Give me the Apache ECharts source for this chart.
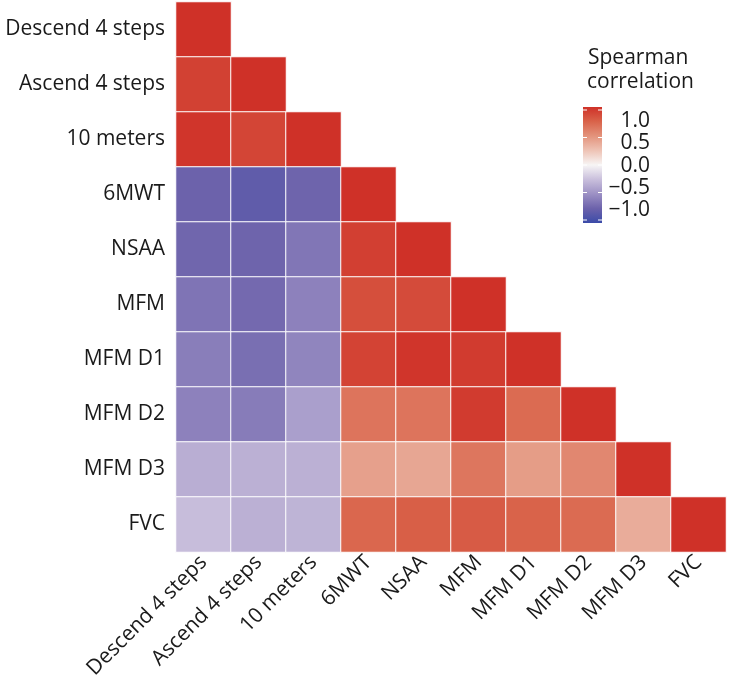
<!DOCTYPE html>
<html>
<head>
<meta charset="utf-8">
<script src="https://cdn.jsdelivr.net/npm/echarts@6/dist/echarts.min.js"></script>
<style>
html,body{margin:0;padding:0;background:#fff;}
#chart{width:730px;height:685px;}
</style>
</head>
<body>
<div id="chart"></div>
<script>
// Variables (same order for rows top->bottom and columns left->right)
const variables = ["Descend 4 steps","Ascend 4 steps","10 meters","6MWT","NSAA","MFM","MFM D1","MFM D2","MFM D3","FVC"];

// Lower-triangle Spearman correlations, one array per row (columns 0..row)
const rowDescend = [1];
const rowAscend  = [0.92, 1];
const row10m     = [0.98, 0.90, 1];
const row6MWT    = [-0.75, -0.81, -0.74, 1];
const rowNSAA    = [-0.73, -0.74, -0.64, 0.93, 1];
const rowMFM     = [-0.65, -0.71, -0.58, 0.85, 0.87, 1];
const rowMFMD1   = [-0.60, -0.68, -0.56, 0.91, 0.98, 0.95, 1];
const rowMFMD2   = [-0.58, -0.61, -0.42, 0.66, 0.66, 0.95, 0.71, 1];
const rowMFMD3   = [-0.34, -0.33, -0.33, 0.43, 0.40, 0.65, 0.45, 0.56, 1];
const rowFVC     = [-0.26, -0.33, -0.31, 0.73, 0.77, 0.79, 0.75, 0.71, 0.37, 1];

const legendTicks = ["1.0","0.5","0.0","\u22120.5","\u22121.0"];
const legendTitle = ["Spearman","correlation"];

const rows = [rowDescend,rowAscend,row10m,row6MWT,rowNSAA,rowMFM,rowMFMD1,rowMFMD2,rowMFMD3,rowFVC];
const data = [];
rows.forEach((r, i) => r.forEach((v, j) => data.push([j, i, v])));

// colour scale, from -1 to 1
const scaleColors = ['#3B4BA8','#6C62AB','#9C90C4','#C9BFDC','#F7F5F5','#EEC3B5','#E3937C','#D9634A','#CF3128'];

const font = '"Open Sans", "Noto Sans", sans-serif';
const chart = echarts.init(document.getElementById('chart'), null, {renderer:'canvas'});

// legend gradient (top = +1)
const gradStops = scaleColors.slice().reverse().map((c, k, a) => ({offset: k/(a.length-1), color: c}));
const barX = 583, barY = 107, barW = 19, barH = 116;
const tickYs = [110, 137.5, 165, 192.5, 220];
const labelYs = [121, 143, 166, 188, 210];
const graphics = [
  {type:'text', x: 588, y: 58, style:{text: legendTitle[0], font: '21px ' + font, fill:'#1a1a1a', verticalAlign:'middle'}},
  {type:'text', x: 587, y: 82, style:{text: legendTitle[1], font: '21px ' + font, fill:'#1a1a1a', verticalAlign:'middle'}},
  {type:'rect', shape:{x:barX, y:barY, width:barW, height:barH}, style:{fill: new echarts.graphic.LinearGradient(0,0,0,1,gradStops)}}
];
tickYs.forEach(y => {
  graphics.push({type:'line', shape:{x1:barX, y1:y, x2:barX+4, y2:y}, style:{stroke:'#fff', lineWidth:1}});
  graphics.push({type:'line', shape:{x1:barX+barW-4, y1:y, x2:barX+barW, y2:y}, style:{stroke:'#fff', lineWidth:1}});
});
legendTicks.forEach((t, k) => {
  graphics.push({type:'text', x: 650, y: labelYs[k], style:{text:t, font:'21px ' + font, fill:'#1a1a1a', align:'right', verticalAlign:'middle'}});
});

chart.setOption({
  animation: false,
  backgroundColor: '#fff',
  grid: {left: 176, top: 2, width: 550, height: 550},
  xAxis: {
    type: 'category', data: variables,
    axisLine: {show:false}, axisTick: {show:false}, splitLine:{show:false},
    axisLabel: {rotate: 45, fontSize: 21, fontFamily: font, color: '#1a1a1a', margin: 7, interval: 0}
  },
  yAxis: {
    type: 'category', data: variables, inverse: true,
    axisLine: {show:false}, axisTick: {show:false}, splitLine:{show:false},
    axisLabel: {fontSize: 21, fontFamily: font, color: '#1a1a1a', margin: 11, interval: 0}
  },
  visualMap: {
    show: false, type: 'continuous', min: -1, max: 1, dimension: 2,
    inRange: {color: scaleColors}
  },
  series: [{
    type: 'heatmap', data: data,
    itemStyle: {borderColor: '#fff', borderWidth: 1}
  }],
  graphic: graphics
});
</script>
</body>
</html>
